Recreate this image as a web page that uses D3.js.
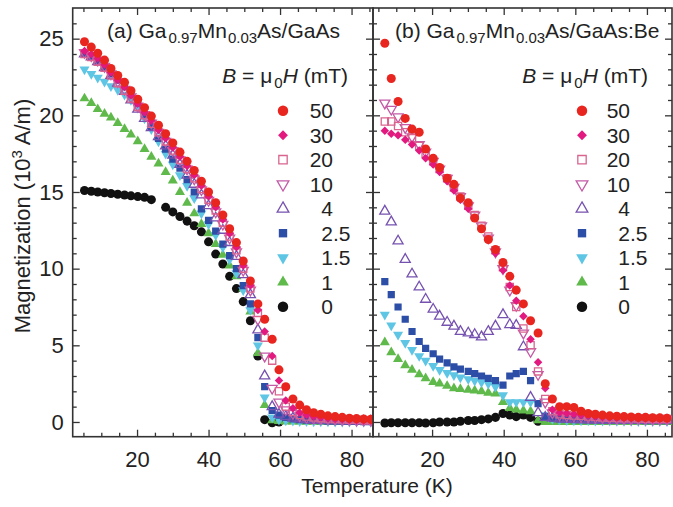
<!DOCTYPE html>
<html><head><meta charset="utf-8">
<script src="https://cdn.jsdelivr.net/npm/d3@7"></script>
<style>
body{margin:0;background:#fff}
svg{display:block}
text{font-family:"Liberation Sans",Arial,Helvetica,sans-serif;fill:#222}
</style>
</head><body>
<svg id="chart" width="673" height="507"></svg>
<script>
// ---------------- DATA ----------------
const fieldLabels = ["50","30","20","10","4","2.5","1.5","1","0"];
const xTicks = [20,40,60,80];
const yTicks = [0,5,10,15,20,25];

// Panel (a): Ga0.97Mn0.03As/GaAs
const tempA = [5.3,7.2,9.0,10.9,12.7,14.6,16.5,18.3,20.2,22.1,24.0,26.0,28.0,30.0,32.0,34.0,36.0,38.0,40.0,42.0,44.0,45.9,47.8,49.7,51.7,53.8,55.7,57.8,59.7,61.6,63.6,65.5,67.4,69.4,71.4,73.4,75.4,77.4,79.4,81.4,83.4,85.4];
const a50  = [24.8,24.45,24.05,23.6,23.05,22.6,22.15,21.6,21.05,20.5,19.95,19.35,18.8,18.2,17.6,17.0,16.4,15.7,15.0,14.3,13.5,12.6,11.7,10.5,9.2,7.7,6.7,5.4,3.4,2.3,1.5,1.1,0.8,0.6,0.5,0.4,0.35,0.3,0.25,0.22,0.2,0.18];
const a30  = [24.2,24.0,23.7,23.3,22.8,22.3,21.85,21.3,20.75,20.2,19.65,19.05,18.5,17.9,17.3,16.7,16.1,15.4,14.7,14.0,13.2,12.3,11.4,10.2,8.9,7.3,5.9,4.3,2.7,1.4,0.9,0.6,0.45,0.35,0.3,0.25,0.2,0.18,0.15,0.12,0.1,0.1];
const a20  = [24.0,23.8,23.5,23.1,22.6,22.1,21.6,21.1,20.55,20.0,19.45,18.9,18.3,17.7,17.1,16.5,15.9,15.2,14.5,13.8,13.0,12.1,11.2,10.0,8.7,7.1,5.5,4.0,2.0,1.0,0.65,0.45,0.35,0.3,0.25,0.22,0.2,0.18,0.15,0.15,0.12,0.12];
const a10  = [24.1,23.9,23.6,23.2,22.7,22.2,21.7,21.2,20.6,20.05,19.5,18.9,18.3,17.7,17.1,16.5,15.85,15.15,14.45,13.7,12.9,12.0,11.1,9.9,8.6,6.7,4.3,2.2,1.3,0.8,0.55,0.4,0.3,0.25,0.22,0.2,0.18,0.15,0.15,0.12,0.12,0.1];
const a4   = [24.0,23.8,23.5,23.1,22.6,22.1,21.55,21.0,20.4,19.8,19.2,18.6,18.0,17.4,16.8,16.1,15.5,14.8,14.1,13.3,12.5,11.7,10.8,9.6,8.3,6.0,3.0,1.0,0.5,0.35,0.25,0.2,0.15,0.12,0.1,0.1,0.08,0.08,0.06,0.06,0.05,0.05];
const a2p5 = [24.0,23.8,23.5,23.1,22.7,22.3,21.85,21.35,20.8,20.05,19.25,18.5,17.8,17.15,16.55,15.8,15.0,13.9,13.15,12.45,11.6,10.85,10.0,8.9,7.7,5.5,2.3,0.75,0.45,0.3,0.2,0.15,0.12,0.1,0.08,0.06,0.05,0.05,0.04,0.04,0.03,0.03];
const a1p5 = [23.0,22.7,22.45,22.2,21.9,21.65,21.35,21.0,20.5,19.8,19.1,18.3,17.5,16.8,16.1,15.4,14.6,13.6,12.9,12.2,11.4,10.6,9.7,8.6,7.3,5.0,1.6,0.3,0.15,0.1,0.08,0.06,0.05,0.04,0.03,0.03,0.02,0.02,0.02,0.02,0.02,0.02];
const a1   = [21.1,20.8,20.4,20.1,19.85,19.5,19.1,18.75,18.3,17.8,17.3,16.85,16.3,15.75,15.0,14.3,13.6,12.9,12.3,11.6,10.9,10.2,9.5,8.7,7.2,4.5,1.1,0.1,0.05,0.03,0.02,0.02,0.01,0.01,0.01,0.01,0.01,0.01,0.01,0.01,0.01,0.01];
const a0   = [15.1,15.05,15.0,14.95,14.9,14.85,14.8,14.75,14.7,14.65,14.5,null,14.0,13.7,13.4,13.1,12.8,12.4,11.75,10.95,10.3,9.5,8.7,7.85,6.6,4.3,0.15,-0.05,0.0,null,null,null,null,null,null,null,null,null,null,null,null,null];

// Panel (b): Ga0.97Mn0.03As/GaAs:Be
const tempB = [6.8,8.6,10.5,12.5,14.4,16.4,18.2,20.3,22.1,24.2,26.1,27.9,30.1,31.9,33.8,35.7,37.7,39.8,41.7,43.5,45.5,47.5,49.6,51.6,53.6,55.6,57.6,59.6,61.6,63.6,65.6,67.6,69.6,71.6,73.6,75.6,77.6,79.6,81.6,83.6,85.6];
const b50  = [24.7,22.4,20.9,19.8,19.1,18.9,17.8,17.2,16.6,15.9,15.5,14.6,14.3,13.3,12.6,11.9,11.25,10.4,9.5,8.6,7.7,6.6,5.8,2.5,1.5,1.0,1.0,0.95,0.7,0.55,0.5,0.45,0.4,0.38,0.35,0.33,0.3,0.3,0.28,0.27,0.25];
const b30  = [19.0,18.8,18.7,18.4,18.1,17.7,17.2,16.8,16.3,15.7,15.1,14.5,13.9,13.3,12.6,11.9,11.0,9.9,8.9,7.9,6.9,5.4,3.9,2.2,0.8,0.6,0.55,0.5,0.45,0.4,0.35,0.32,0.3,0.28,0.26,0.25,0.24,0.22,0.2,0.2,0.2];
const b20  = [19.6,19.6,19.3,18.9,18.5,18.0,17.5,17.0,16.5,15.9,15.3,14.7,14.1,13.5,12.8,12.1,11.2,10.1,8.8,7.5,6.1,5.0,3.3,1.5,0.7,0.5,0.45,0.42,0.4,0.36,0.33,0.3,0.28,0.26,0.25,0.24,0.22,0.21,0.2,0.2,0.2];
const b10  = [20.8,20.4,19.9,19.2,18.6,18.1,17.6,17.0,16.5,15.9,15.3,14.7,14.1,13.5,12.8,12.0,11.1,10.0,8.6,7.6,5.8,4.6,3.1,1.3,0.6,0.45,0.4,0.38,0.35,0.32,0.3,0.28,0.26,0.24,0.22,0.21,0.2,0.2,0.18,0.18,0.18];
const b4   = [13.75,13.05,11.8,10.6,9.65,8.8,8.0,7.35,6.9,6.5,6.25,5.9,5.8,5.7,5.55,5.9,6.25,7.0,6.35,6.3,4.9,1.6,0.6,0.3,0.25,0.2,0.18,0.16,0.15,0.14,0.13,0.12,0.12,0.11,0.1,0.1,0.1,0.1,0.1,0.1,0.1];
const b2p5 = [9.15,8.3,7.5,6.7,5.9,5.25,4.8,4.45,4.1,3.85,3.6,3.45,3.3,3.15,3.0,2.85,2.7,2.4,3.0,3.15,3.3,2.7,1.2,0.35,0.25,0.2,0.18,0.16,0.15,0.14,0.13,0.12,0.11,0.1,0.1,0.1,0.1,0.09,0.09,0.09,0.09];
const b1p5 = [7.0,6.3,5.7,5.15,4.7,4.3,4.0,3.65,3.4,3.2,3.05,2.9,2.8,2.7,2.6,2.5,2.3,1.75,1.3,1.3,1.3,1.3,1.25,0.45,0.2,0.15,0.12,0.1,0.1,0.1,0.08,0.08,0.08,0.07,0.07,0.07,0.06,0.06,0.06,0.06,0.06];
const b1   = [5.2,4.55,4.1,3.7,3.4,3.1,2.85,2.6,2.5,2.35,2.2,2.15,2.1,2.05,2.0,1.9,1.85,1.3,0.9,0.8,0.75,0.7,0.1,0.0,0.0,0.0,0.0,0.0,0.0,0.0,0.0,0.0,0.0,0.0,0.0,0.0,0.0,0.0,0.0,0.0,0.0];
const b0   = [-0.07,-0.05,-0.05,-0.05,-0.05,-0.05,-0.07,-0.05,0.0,0.0,0.0,0.05,0.1,0.1,0.15,0.2,0.3,0.55,0.45,0.35,0.45,0.3,0.05,null,null,null,null,null,null,null,null,null,null,null,null,null,null,null,null,null,null];

// ---------------- STYLE ----------------
const styles = {
  "50":  {shape:"circle",  fill:"#e8261f", stroke:"none"},
  "30":  {shape:"diamond", fill:"#e2197f", stroke:"none"},
  "20":  {shape:"square",  fill:"none",    stroke:"#d9648f"},
  "10":  {shape:"down",    fill:"none",    stroke:"#c35aa6"},
  "4":   {shape:"up",      fill:"none",    stroke:"#7652b0"},
  "2.5": {shape:"square",  fill:"#2c4ea6", stroke:"none"},
  "1.5": {shape:"down",    fill:"#5ec6e4", stroke:"none"},
  "1":   {shape:"up",      fill:"#5fba4b", stroke:"none"},
  "0":   {shape:"circle",  fill:"#111111", stroke:"none"}
};
function symbolPath(shape, scale){
  const s = scale||1;
  if(shape==="circle")  return d3.symbol(d3.symbolCircle, 64*s)();
  if(shape==="diamond") return d3.symbol(d3.symbolSquare, 36*s)();
  if(shape==="square")  return d3.symbol(d3.symbolSquare, 52*s)();
  return d3.symbol(d3.symbolTriangle, 44*s)();
}
function symbolRot(shape){
  if(shape==="diamond") return 45;
  if(shape==="down") return 180;
  return 0;
}

const seriesA = [a50,a30,a20,a10,a4,a2p5,a1p5,a1,a0];
const seriesB = [b50,b30,b20,b10,b4,b2p5,b1p5,b1,b0];

const svg = d3.select("#chart");
const yTop = 8, yBot = 436.7;
const y = d3.scaleLinear().domain([-0.96, 27.0]).range([yBot, yTop]);

const panels = [
  {id:"a", x0:72.7, x1:373, dom:[2,86], temps:tempA, series:seriesA,
   title:["(a) Ga","0.97","Mn","0.03","As/GaAs"], titleX:107,
   legMarkX:283, legLabelX:333, headRight:348},
  {id:"b", x0:373, x1:672, dom:[3.5,87], temps:tempB, series:seriesB,
   title:["(b) Ga","0.97","Mn","0.03","As/GaAs:Be"], titleX:395,
   legMarkX:582, legLabelX:630, headRight:648}
];

const axisColor = "#333";
const defs = svg.append("defs");

panels.forEach(p=>{
  const x = d3.scaleLinear().domain(p.dom).range([p.x0,p.x1]);
  p.x = x;
  const minorX = d3.range(5,90,5).filter(v=>v>p.dom[0]&&v<p.dom[1]&&v%20!==0);
  const minorY = d3.range(0,27,1).filter(v=>v%5!==0);

  const g = svg.append("g");
  g.append("g").attr("transform",`translate(0,${yBot})`)
    .call(d3.axisBottom(x).tickValues(xTicks).tickSizeInner(-7).tickSizeOuter(0).tickPadding(15).tickFormat(d3.format("d")));
  g.append("g").attr("transform",`translate(0,${yBot})`)
    .call(d3.axisBottom(x).tickValues(minorX).tickSizeInner(-4).tickSizeOuter(0).tickFormat(""));
  g.append("g").attr("transform",`translate(0,${yTop})`)
    .call(d3.axisTop(x).tickValues(xTicks).tickSizeInner(-7).tickSizeOuter(0).tickFormat(""));
  g.append("g").attr("transform",`translate(0,${yTop})`)
    .call(d3.axisTop(x).tickValues(minorX).tickSizeInner(-4).tickSizeOuter(0).tickFormat(""));
  g.append("g").attr("transform",`translate(${p.x0},0)`)
    .call(d3.axisLeft(y).tickValues(yTicks).tickSizeInner(-7).tickSizeOuter(0).tickPadding(9)
      .tickFormat(p.id==="a"?d3.format("d"):""));
  g.append("g").attr("transform",`translate(${p.x0},0)`)
    .call(d3.axisLeft(y).tickValues(minorY).tickSizeInner(-4).tickSizeOuter(0).tickFormat(""));
  g.append("g").attr("transform",`translate(${p.x1},0)`)
    .call(d3.axisRight(y).tickValues(yTicks).tickSizeInner(-7).tickSizeOuter(0).tickFormat(""));
  g.append("g").attr("transform",`translate(${p.x1},0)`)
    .call(d3.axisRight(y).tickValues(minorY).tickSizeInner(-4).tickSizeOuter(0).tickFormat(""));

  g.selectAll(".domain").remove();
  g.selectAll(".tick line").attr("stroke",axisColor).attr("stroke-width",1.3);
  g.selectAll(".tick text").attr("font-size",22).attr("fill","#222")
    .style("font-family",'"Liberation Sans",Arial,sans-serif');

  g.append("rect").attr("x",p.x0).attr("y",yTop).attr("width",p.x1-p.x0).attr("height",yBot-yTop)
    .attr("fill","none").attr("stroke",axisColor).attr("stroke-width",1.6);

  defs.append("clipPath").attr("id","clip"+p.id).append("rect")
    .attr("x",p.x0).attr("y",yTop).attr("width",p.x1-p.x0).attr("height",yBot-yTop);

  const dg = svg.append("g").attr("clip-path",`url(#clip${p.id})`);
  for(let k=fieldLabels.length-1;k>=0;k--){
    const st = styles[fieldLabels[k]];
    const vals = p.series[k];
    const pts = p.temps.map((t,i)=>({t, m:vals[i]})).filter(d=>d.m!==null && d.m!==undefined);
    dg.append("g").selectAll("path").data(pts).join("path")
      .attr("d",symbolPath(st.shape))
      .attr("transform",d=>`translate(${x(d.t)},${y(d.m)}) rotate(${symbolRot(st.shape)})`)
      .attr("fill",st.fill).attr("stroke",st.stroke==="none"?"none":st.stroke)
      .attr("stroke-width",1.3);
  }

  const tt = svg.append("text").attr("x",p.titleX).attr("y",38).attr("font-size",21);
  tt.append("tspan").text(p.title[0]);
  tt.append("tspan").attr("font-size",15).attr("dy",5).attr("dx",2).text(p.title[1]);
  tt.append("tspan").attr("dy",-5).text(p.title[2]);
  tt.append("tspan").attr("font-size",15).attr("dy",5).attr("dx",1).text(p.title[3]);
  tt.append("tspan").attr("dy",-5).text(p.title[4]);

  const hh = svg.append("text").attr("x",p.headRight).attr("y",83).attr("font-size",21).attr("text-anchor","end");
  hh.append("tspan").attr("font-style","italic").text("B");
  hh.append("tspan").text(" = \u03bc");
  hh.append("tspan").attr("font-size",15).attr("dy",5).attr("dx",2).text("0");
  hh.append("tspan").attr("dy",-5).attr("font-style","italic").text("H");
  hh.append("tspan").text(" (mT)");

  fieldLabels.forEach((lab,i)=>{
    const ry = 110.7 + i*24.5;
    const st = styles[lab];
    svg.append("path").attr("d",symbolPath(st.shape,1.35))
      .attr("transform",`translate(${p.legMarkX},${ry}) rotate(${symbolRot(st.shape)})`)
      .attr("fill",st.fill).attr("stroke",st.stroke==="none"?"none":st.stroke).attr("stroke-width",1.3);
    const parts = lab.split(".");
    svg.append("text").attr("x",p.legLabelX).attr("y",ry+7.5).attr("font-size",21)
      .attr("text-anchor","end").text(parts[0]);
    if(parts[1]) svg.append("text").attr("x",p.legLabelX).attr("y",ry+7.5).attr("font-size",21)
      .attr("text-anchor","start").text("."+parts[1]);
  });
});

svg.append("text").attr("x",377).attr("y",493).attr("text-anchor","middle").attr("font-size",21)
  .text("Temperature (K)");
const yl = svg.append("text").attr("transform","translate(30,216) rotate(-90)")
  .attr("text-anchor","middle").attr("font-size",22);
yl.append("tspan").text("Magnetization (10");
yl.append("tspan").attr("font-size",15).attr("dy",-8).text("3");
yl.append("tspan").attr("dy",8).text(" A/m)");
</script>
</body></html>
